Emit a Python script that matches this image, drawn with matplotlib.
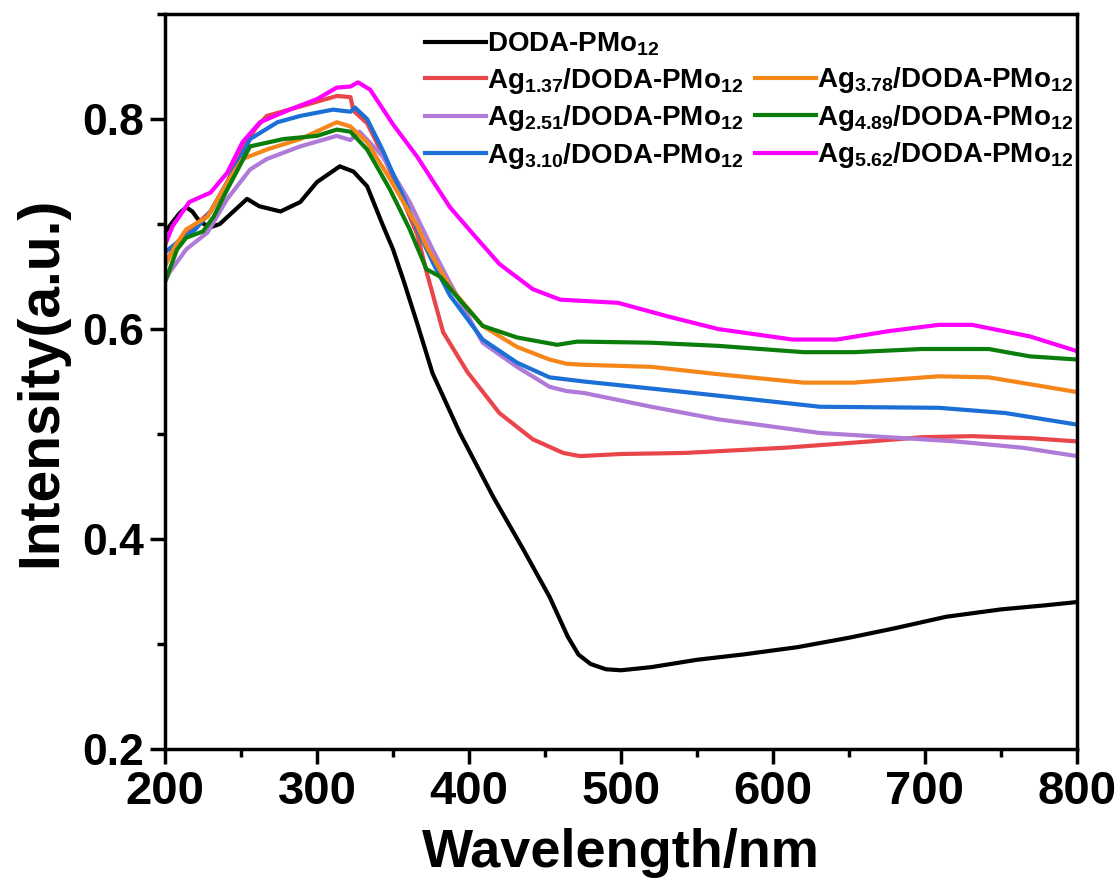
import matplotlib
matplotlib.use('Agg')
import matplotlib.pyplot as plt
from matplotlib.lines import Line2D
from matplotlib.ticker import MultipleLocator

plt.rcParams['font.family'] = ['Liberation Sans', 'DejaVu Sans']
plt.rcParams['font.weight'] = 'bold'
plt.rcParams['mathtext.fontset'] = 'custom'
plt.rcParams['mathtext.rm'] = 'Liberation Sans:bold'
plt.rcParams['mathtext.it'] = 'Liberation Sans:bold'
plt.rcParams['mathtext.bf'] = 'Liberation Sans:bold'
plt.rcParams['mathtext.default'] = 'bf'

black_x = [200, 205, 210, 214, 218, 223, 230, 236, 245, 254, 262, 276, 289, 300, 315, 324, 333, 343, 350, 357,
           366, 376, 394, 416, 435, 453, 465, 472, 480, 490, 500, 520, 550, 580, 616, 650, 680, 714, 750, 780, 800]
black_y = [0.692, 0.702, 0.711, 0.716, 0.712, 0.702, 0.697, 0.700, 0.712, 0.724, 0.717, 0.712, 0.721, 0.740, 0.755,
           0.750, 0.736, 0.700, 0.676, 0.646, 0.605, 0.558, 0.501, 0.440, 0.392, 0.345, 0.307, 0.290, 0.281,
           0.276, 0.275, 0.278, 0.285, 0.290, 0.297, 0.306, 0.315, 0.326, 0.333, 0.337, 0.340]

red_x = [200, 205, 215, 230, 241, 250, 260, 267, 289, 313, 322, 324, 333, 343, 355, 366, 372, 383, 399, 420, 442, 462,
         473, 500, 542, 608, 664, 698, 731, 770, 800]
red_y = [0.662, 0.675, 0.692, 0.712, 0.740, 0.770, 0.792, 0.803, 0.812, 0.822, 0.821, 0.808, 0.796, 0.767, 0.728,
         0.690, 0.655, 0.597, 0.559, 0.520, 0.495, 0.482, 0.479, 0.481, 0.482, 0.487, 0.493, 0.497, 0.498, 0.496, 0.493]

purple_x = [200, 203, 214, 228, 241, 256, 267, 289, 313, 322, 328, 343, 361, 376, 387.5, 409, 431.6, 453, 464, 476,
            520, 564, 631, 676, 720, 764, 800]
purple_y = [0.645, 0.654, 0.676, 0.692, 0.724, 0.752, 0.762, 0.774, 0.784, 0.780, 0.788, 0.765, 0.721, 0.676, 0.644,
            0.587, 0.564, 0.545, 0.541, 0.539, 0.526, 0.514, 0.501, 0.497, 0.493, 0.487, 0.479]

blue_x = [200, 210, 220, 230, 241, 256, 274, 289, 310.5, 322, 325, 333, 343, 354.6, 366, 376, 387.5, 409, 431.6,
          453, 476, 542, 631, 709, 753, 800]
blue_y = [0.673, 0.685, 0.695, 0.712, 0.740, 0.781, 0.797, 0.803, 0.809, 0.807, 0.811, 0.800, 0.771, 0.733, 0.695,
          0.664, 0.632, 0.590, 0.568, 0.554, 0.550, 0.540, 0.526, 0.525, 0.520, 0.509]

orange_x = [200, 207, 214, 228, 241, 251, 267, 289, 313, 322, 333, 348, 366, 372, 387.5, 409, 431.6, 453, 464, 475,
            520, 564, 620, 653, 709, 742, 800]
orange_y = [0.660, 0.680, 0.695, 0.707, 0.740, 0.762, 0.771, 0.781, 0.797, 0.793, 0.778, 0.743, 0.698, 0.679, 0.640,
            0.603, 0.583, 0.571, 0.567, 0.566, 0.564, 0.557, 0.549, 0.549, 0.555, 0.554, 0.540]

green_x = [200, 208, 214, 225, 232, 241, 249, 256, 278, 300, 313, 322, 333, 348, 361, 372, 381, 392, 409, 431.6,
           458, 471, 476, 520, 564, 620, 653, 698, 742, 769, 800]
green_y = [0.645, 0.676, 0.687, 0.693, 0.707, 0.733, 0.755, 0.774, 0.781, 0.784, 0.790, 0.788, 0.771, 0.733, 0.695,
           0.657, 0.650, 0.631, 0.603, 0.592, 0.585, 0.588, 0.588, 0.587, 0.584, 0.578, 0.578, 0.581, 0.581, 0.574,
           0.571]

magenta_x = [200, 205, 216, 230, 241, 251, 262.5, 282, 300, 313, 322, 327, 335, 350, 366, 374, 387.5, 403, 420, 442,
             460, 498, 531, 564, 613, 642, 676, 709, 731, 769, 800]
magenta_y = [0.680, 0.698, 0.721, 0.730, 0.749, 0.778, 0.797, 0.809, 0.819, 0.830, 0.831, 0.835, 0.828, 0.795, 0.764,
             0.746, 0.716, 0.690, 0.662, 0.638, 0.628, 0.625, 0.612, 0.600, 0.590, 0.590, 0.598, 0.604, 0.604, 0.593,
             0.579]

labels = [r'DODA-PMo$_{12}$',
          r'Ag$_{1.37}$/DODA-PMo$_{12}$',
          r'Ag$_{2.51}$/DODA-PMo$_{12}$',
          r'Ag$_{3.10}$/DODA-PMo$_{12}$',
          r'Ag$_{3.78}$/DODA-PMo$_{12}$',
          r'Ag$_{4.89}$/DODA-PMo$_{12}$',
          r'Ag$_{5.62}$/DODA-PMo$_{12}$']
colors = ['black', '#e8464a', '#b07ad8', '#1c6fd6', '#f5861a', '#0a7d0a', '#ff00ff']

fig = plt.figure(figsize=(11.2, 8.81), dpi=100)
ax = fig.add_axes([0.1473, 0.1498, 0.8143, 0.8342])

series = [(black_x, black_y), (red_x, red_y), (purple_x, purple_y), (blue_x, blue_y),
          (orange_x, orange_y), (green_x, green_y), (magenta_x, magenta_y)]
lines = []
for (x, y), c, lab in zip(series, colors, labels):
    ln, = ax.plot(x, y, color=c, lw=3, label=lab)
    lines.append(ln)

ax.set_xlim(200, 800)
ax.set_ylim(0.2, 0.9)
ax.xaxis.set_major_locator(MultipleLocator(100))
ax.xaxis.set_minor_locator(MultipleLocator(50))
ax.yaxis.set_major_locator(MultipleLocator(0.2))
ax.yaxis.set_minor_locator(MultipleLocator(0.1))
ax.tick_params(which='major', direction='out', length=11, width=2.5, labelsize=32, pad=4)
ax.tick_params(axis='x', which='major', labelsize=34)
ax.tick_params(which='minor', direction='out', length=6, width=2.5)
for s in ax.spines.values():
    s.set_linewidth(2.5)

ax.set_xlabel('Wavelength/nm', fontsize=39, fontweight='bold', labelpad=10)
ax.set_ylabel('Intensity(a.u.)', fontsize=41, fontweight='bold', labelpad=10)

blank = Line2D([], [], color='none')
handles = lines[:4] + [blank] + lines[4:]
leg_labels = labels[:4] + [''] + labels[4:]
ax.legend(handles, leg_labels, ncol=2, loc='upper left', bbox_to_anchor=(0.285, 0.977),
          frameon=False, fontsize=20, handlelength=2.2, handletextpad=0.05,
          labelspacing=0.27, columnspacing=0.4, borderpad=0, borderaxespad=0)

fig.savefig('out.png', dpi=100)
